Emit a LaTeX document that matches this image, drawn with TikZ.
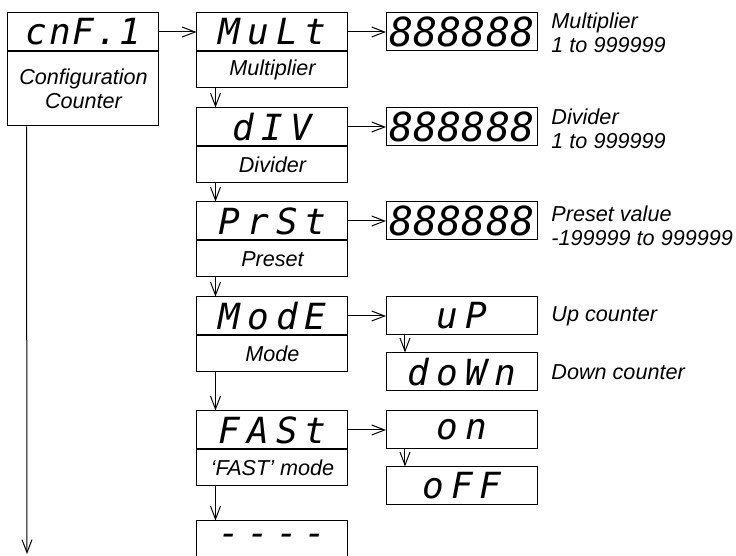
\documentclass[tikz,border=0pt]{standalone}
\usepackage{fontspec}
\setsansfont{Liberation Sans}
\newfontfamily\segfam{DejaVu Sans Mono}[LetterSpace=20]
\newfontfamily\digfam{DejaVu Sans Mono}
\usetikzlibrary{arrows.meta,positioning}

\newcommand\segtxt{\segfam\itshape\fontsize{18}{18}\selectfont}
\newcommand\digtxt{\digfam\itshape\fontsize{20}{20}\selectfont}
\newcommand\lbltxt{\sffamily\itshape\fontsize{10.8}{12}\selectfont}

\tikzset{
  disp/.style={draw, minimum width=75.5pt, minimum height=19pt, inner sep=0pt, font=\segtxt},
  digits/.style={disp, font=\digtxt},
  capt/.style={draw, minimum width=75.5pt, minimum height=18pt, inner sep=0pt, align=center, font=\lbltxt},
  note/.style={anchor=west, align=left, inner sep=0pt, font=\lbltxt},
  arr/.style={-{Straight Barb[length=6.5pt,width=5pt]}},
}

\begin{document}
\begin{tikzpicture}[x=0.5pt, y=-0.5pt, line width=0.5pt]
  \useasboundingbox (0,0) rectangle (736,556);
  \clip (0,0) rectangle (736,556);
  % configuration entry
  \node[disp] (cnf) at (83.5,32) {\addfontfeature{LetterSpace=5}cnF.1};
  \node[capt, minimum height=37pt, below=0pt of cnf] (cnfc) {Configuration\\Counter};
  % parameter column
  \node[disp] (mult) at (272.5,32) {MuLt};
  \node[capt, below=0pt of mult] (multc) {Multiplier};
  \node[disp] (div) at (272.5,127) {dIV};
  \node[capt, below=0pt of div] (divc) {Divider};
  \node[disp] (prst) at (272.5,221) {PrSt};
  \node[capt, below=0pt of prst] (prstc) {Preset};
  \node[disp] (mode) at (272.5,316) {ModE};
  \node[capt, below=0pt of mode] (modec) {Mode};
  \node[disp] (fast) at (272.5,430) {FASt};
  \node[capt, below=0pt of fast] (fastc) {‘FAST’ mode};
  \node[disp] (dash) at (272.5,540) {----};
  % values
  \node[digits] (multv) at (462,32) {888888};
  \node[digits] (divv) at (462,127) {888888};
  \node[digits] (prstv) at (462,221) {888888};
  \node[disp] (up) at (462,316) {uP};
  \node[disp] (down) at (462,372) {doWn};
  \node[disp] (on) at (462,430) {on};
  \node[disp] (off) at (462,486) {oFF};
  % notes
  \node[note] (multn) at (551,33) {Multiplier\\1 to 999999};
  \node[note] (divn) at (551,129) {Divider\\1 to 999999};
  \node[note] (prstn) at (551,226) {Preset value\\-199999 to 999999};
  \node[note] (upn) at (551,316) {Up counter};
  \node[note] (downn) at (551,372) {Down counter};
  % connectors
  \draw[arr] (cnf) -- (mult);
  \foreach \a/\b in {mult/multv, div/divv, prst/prstv, mode/up, fast/on}
    \draw[arr] (\a) -- (\b);
  \foreach \a/\b in {multc/div, divc/prst, prstc/mode, modec/fast, fastc/dash, up/down, on/off}
    \draw[arr] ([xshift=9.5pt]\a.south west) -- ([xshift=9.5pt]\b.north west);
  \coordinate (cnfend) at (27,554);
  \draw[arr] ([xshift=9.5pt]cnfc.south west) -- (cnfend);
\end{tikzpicture}
\end{document}
